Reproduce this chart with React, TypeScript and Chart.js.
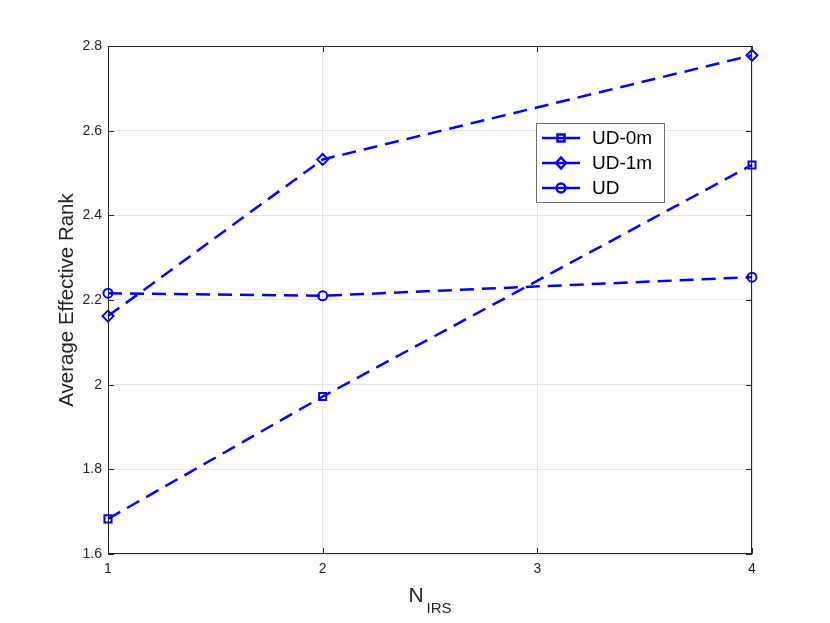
import React, { useEffect, useRef } from "react";
import { Chart, registerables } from "chart.js";

Chart.register(...registerables);

const xValues = [1, 2, 4];
const ud0m = [1.683, 1.972, 2.519];
const ud1m = [2.162, 2.532, 2.778];
const ud = [2.216, 2.210, 2.254];
const seriesLabels = ["UD-0m", "UD-1m", "UD"];
const seriesStyles = ["rect", "rectRot", "circle"];
const xTicks = [1, 2, 3, 4];
const yMin = 1.6;
const yMax = 2.8;
const yStep = 0.2;
const yTitle = "Average Effective Rank";
const xTitleMain = "N";
const xTitleSub = "IRS";

const BLUE = "#0000ff";
const AXIS = "#262626";
const FONT = "'Liberation Sans', Arial, Helvetica, sans-serif";

function drawMarker(ctx: CanvasRenderingContext2D, style: string, x: number, y: number) {
  ctx.beginPath();
  if (style === "rect") {
    ctx.rect(x - 3.5, y - 3.5, 7, 7);
  } else if (style === "rectRot") {
    ctx.moveTo(x - 5, y);
    ctx.lineTo(x, y - 5.5);
    ctx.lineTo(x + 5, y);
    ctx.lineTo(x, y + 5.5);
    ctx.closePath();
  } else {
    ctx.arc(x, y, 4.5, 0, Math.PI * 2);
  }
  ctx.stroke();
}

const framePlugin = {
  id: "frame",
  afterDraw(chart: any) {
    const { ctx, chartArea } = chart;
    const { left, right, top, bottom } = chartArea;
    const xs = chart.scales.x;
    const ys = chart.scales.y;
    ctx.save();
    ctx.strokeStyle = AXIS;
    ctx.lineWidth = 1;
    ctx.strokeRect(left + 0.5, top + 0.5, right - left - 1, bottom - top - 1);
    const tl = 6;
    ctx.beginPath();
    xs.ticks.forEach((t: any) => {
      const px = Math.round(xs.getPixelForValue(t.value)) + 0.5;
      ctx.moveTo(px, bottom);
      ctx.lineTo(px, bottom - tl);
      ctx.moveTo(px, top);
      ctx.lineTo(px, top + tl);
    });
    ys.ticks.forEach((t: any) => {
      const py = Math.round(ys.getPixelForValue(t.value)) + 0.5;
      ctx.moveTo(left, py);
      ctx.lineTo(left + tl, py);
      ctx.moveTo(right, py);
      ctx.lineTo(right - tl, py);
    });
    ctx.stroke();

    // y title
    ctx.fillStyle = AXIS;
    ctx.font = `20.5px ${FONT}`;
    ctx.textAlign = "center";
    ctx.textBaseline = "middle";
    ctx.save();
    ctx.translate(67, (top + bottom) / 2);
    ctx.rotate(-Math.PI / 2);
    ctx.fillText(yTitle, 0, 0);
    ctx.restore();

    // x title with subscript
    ctx.textAlign = "left";
    ctx.textBaseline = "alphabetic";
    ctx.font = `21px ${FONT}`;
    const wN = ctx.measureText(xTitleMain).width;
    ctx.font = `15px ${FONT}`;
    const wS = ctx.measureText(xTitleSub).width;
    const cx = (left + right) / 2;
    const x0 = cx - (wN + wS + 3) / 2;
    ctx.font = `21px ${FONT}`;
    ctx.fillText(xTitleMain, x0, 602);
    ctx.font = `15px ${FONT}`;
    ctx.fillText(xTitleSub, x0 + wN + 3, 613);

    // legend
    const lx = 536, ly = 123, lw = 128, lh = 79;
    ctx.fillStyle = "#ffffff";
    ctx.fillRect(lx, ly, lw, lh);
    ctx.strokeStyle = "#6e6e6e";
    ctx.lineWidth = 1;
    ctx.strokeRect(lx + 0.5, ly + 0.5, lw, lh);
    const rows = [138, 163, 188];
    ctx.font = `19px ${FONT}`;
    ctx.textBaseline = "middle";
    seriesLabels.forEach((lab, i) => {
      const ry = rows[i];
      ctx.strokeStyle = BLUE;
      ctx.lineWidth = 2.5;
      ctx.setLineDash([]);
      ctx.beginPath();
      ctx.moveTo(542, ry);
      ctx.lineTo(580, ry);
      ctx.stroke();
      ctx.fillStyle = "#ffffff";
      drawMarker(ctx, seriesStyles[i], 561, ry);
      ctx.fillStyle = "#000000";
      ctx.fillText(lab, 592, ry + 1);
    });
    ctx.restore();
  },
};

export default function App() {
  const ref = useRef<HTMLCanvasElement>(null);
  useEffect(() => {
    document.body.style.margin = "0";
    const canvas = ref.current!;
    const mk = (label: string, data: number[], style: string, radius: number) => ({
      label,
      data: xValues.map((x, i) => ({ x, y: data[i] })),
      borderColor: BLUE,
      backgroundColor: BLUE,
      borderWidth: 2.5,
      borderDash: [14, 8],
      pointStyle: style,
      pointRadius: radius,
      pointBorderWidth: 2,
      pointBorderColor: BLUE,
      pointBackgroundColor: "rgba(0,0,0,0)",
      tension: 0,
      clip: false,
    });
    const chart = new Chart(canvas, {
      type: "line",
      data: {
        datasets: [
          mk(seriesLabels[0], ud0m, "rect", 5),
          mk(seriesLabels[1], ud1m, "rectRot", 5.5),
          mk(seriesLabels[2], ud, "circle", 4.5),
        ],
      },
      options: {
        responsive: false,
        animation: false,
        devicePixelRatio: 1,
        layout: { padding: { left: 0, top: 46, right: 78, bottom: 0 } },
        plugins: { legend: { display: false }, tooltip: { enabled: false } },
        scales: {
          x: {
            type: "linear",
            min: xTicks[0],
            max: xTicks[xTicks.length - 1],
            afterBuildTicks: (s: any) => {
              s.ticks = xTicks.map((v) => ({ value: v }));
            },
            afterFit: (s: any) => {
              s.height = 69;
            },
            grid: { color: "#e6e6e6", drawTicks: false, lineWidth: 1 },
            border: { display: false },
            ticks: {
              color: AXIS,
              font: { family: FONT, size: 14 },
              padding: 7,
              callback: (v: any) => String(v),
            },
          },
          y: {
            type: "linear",
            min: yMin,
            max: yMax,
            afterFit: (s: any) => {
              s.width = 108;
            },
            grid: { color: "#e6e6e6", drawTicks: false, lineWidth: 1 },
            border: { display: false },
            ticks: {
              stepSize: yStep,
              color: AXIS,
              font: { family: FONT, size: 14 },
              padding: 6,
              callback: (v: any) => String(Number(Number(v).toFixed(1))),
            },
          },
        },
      },
      plugins: [framePlugin],
    });
    return () => chart.destroy();
  }, []);
  return (
    <div style={{ position: "absolute", left: 0, top: 0, width: 830, height: 623 }}>
      <canvas ref={ref} width={830} height={623} />
    </div>
  );
}
